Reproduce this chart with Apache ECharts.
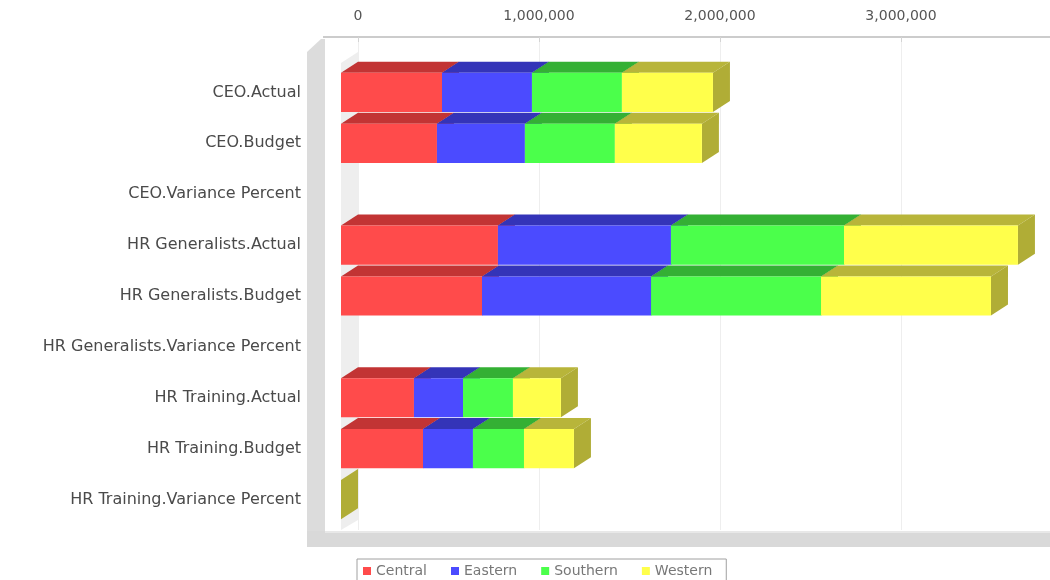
<!DOCTYPE html>
<html lang="en">
<head>
    <meta charset="UTF-8">
    <title>Regions by department</title>
    <script src="https://cdn.jsdelivr.net/npm/echarts@6/dist/echarts.min.js"></script>
    <style>
        html, body { margin: 0; padding: 0; background: #fff; }
        #chart { width: 1050px; height: 580px; }
    </style>
</head>
<body>
    <div id="chart"></div>
    <script>
        // categories, top to bottom
        const categories = [
            'CEO.Actual', 'CEO.Budget', 'CEO.Variance Percent',
            'HR Generalists.Actual', 'HR Generalists.Budget', 'HR Generalists.Variance Percent',
            'HR Training.Actual', 'HR Training.Budget', 'HR Training.Variance Percent'
        ]
        const regions = ['Central', 'Eastern', 'Southern', 'Western']

        // values per region
        const central  = [558000, 530000, 0, 867000, 779000, 0, 403000, 453000, 0]
        const eastern  = [497000, 486000, 0, 956000, 934000, 0, 271000, 276000, 0]
        const southern = [497000, 497000, 0, 956000, 939000, 0, 276000, 282000, 0]
        const western  = [503000, 481000, 0, 961000, 939000, 0, 265000, 276000, 4.2]

        const xMax = 4000000
        const xStep = 1000000

        // front / top / side colours
        const colors = [
            { front: '#ff4b4b', top: '#c23434', side: '#b83030' },
            { front: '#4b4bff', top: '#3434b8', side: '#3030aa' },
            { front: '#4bff4b', top: '#34b034', side: '#30a030' },
            { front: '#ffff4b', top: '#b8b53a', side: '#b0ad36' }
        ]

        // 3d depth offset
        const DX = 17
        const DY = 11

        function makeItems(values, prev) {
            return values.map((v, i) => [i, prev[i], prev[i] + v])
        }

        const allValues = [central, eastern, southern, western]
        let base = categories.map(() => 0)
        const seriesData = []
        for (let s = 0; s < allValues.length; s++) {
            seriesData.push(makeItems(allValues[s], base))
            base = base.map((b, i) => b + allValues[s][i])
        }

        function render3d(c) {
            return function (params, api) {
                const cat = api.value(0)
                const start = api.value(1)
                const end = api.value(2)
                if (end - start <= 0) return
                const p0 = api.coord([start, cat])
                const p1 = api.coord([end, cat])
                const h = api.size([0, 1])[1] * 0.77
                const yt = p0[1] - h / 2
                const yb = p0[1] + h / 2
                const x0 = p0[0]
                const x1 = p1[0]
                return {
                    type: 'group',
                    children: [
                        {
                            type: 'polygon',
                            shape: { points: [[x0, yt], [x1, yt], [x1 + DX, yt - DY], [x0 + DX, yt - DY]] },
                            style: { fill: c.top }
                        },
                        {
                            type: 'polygon',
                            shape: { points: [[x1, yt], [x1 + DX, yt - DY], [x1 + DX, yb - DY], [x1, yb]] },
                            style: { fill: c.side }
                        },
                        {
                            type: 'rect',
                            shape: { x: x0, y: yt, width: x1 - x0, height: h },
                            style: { fill: c.front }
                        }
                    ]
                }
            }
        }

        const series = regions.map((name, s) => ({
            name: name,
            type: 'custom',
            xAxisIndex: 1,
            yAxisIndex: 1,
            itemStyle: { color: colors[s].front },
            encode: { x: [1, 2], y: 0 },
            renderItem: render3d(colors[s]),
            data: seriesData[s]
        }))

        const myChart = echarts.init(document.getElementById('chart'))
        const option = {
            animation: false,
            backgroundColor: '#fff',
            textStyle: { fontFamily: 'DejaVu Sans' },
            grid: [
                // back plane: top axis + grid lines
                { left: 358, top: 37, width: 724, bottom: 50, outerBoundsMode: 'none', containLabel: false },
                // front plane: bars + category labels
                { left: 341, top: 67, width: 724, bottom: 55, outerBoundsMode: 'none', containLabel: false }
            ],
            xAxis: [
                {
                    gridIndex: 0,
                    type: 'value',
                    position: 'top',
                    min: 0,
                    max: xMax,
                    interval: xStep,
                    axisLine: { show: true, lineStyle: { color: '#cccccc', width: 2 } },
                    axisTick: { show: true, inside: true, length: 5, lineStyle: { color: '#d4d4d4' } },
                    axisLabel: { margin: 14, fontSize: 14, color: '#555', showMaxLabel: false },
                    splitLine: { show: true, lineStyle: { color: '#eeeeee' } }
                },
                {
                    gridIndex: 1,
                    type: 'value',
                    min: 0,
                    max: xMax,
                    show: false
                }
            ],
            yAxis: [
                {
                    gridIndex: 0,
                    type: 'category',
                    data: categories,
                    show: false
                },
                {
                    gridIndex: 1,
                    type: 'category',
                    inverse: true,
                    data: categories,
                    axisLine: { show: false },
                    axisTick: { show: false },
                    splitLine: { show: false },
                    axisLabel: { margin: 40, fontSize: 16, color: '#4a4a4a' }
                }
            ],
            legend: {
                left: 357,
                top: 559,
                width: 400,
                data: regions,
                icon: 'rect',
                itemWidth: 8,
                itemHeight: 8,
                itemGap: 24,
                padding: [5, 14, 6, 6],
                borderColor: '#a0a0a0',
                borderWidth: 1,
                textStyle: { fontSize: 14, color: '#777' }
            },
            graphic: [
                // outer frame edge (left)
                {
                    type: 'polygon', z: 0,
                    shape: { points: [[307, 52], [321, 39], [325, 39], [325, 547], [307, 547]] },
                    style: { fill: '#dcdcdc' }
                },
                // floor
                {
                    type: 'rect', z: 0,
                    shape: { x: 307, y: 531, width: 760, height: 16 },
                    style: { fill: '#d9d9d9' }
                },
                {
                    type: 'line', z: 0,
                    shape: { x1: 325, y1: 532, x2: 1050, y2: 532 },
                    style: { stroke: '#e8e8e8', lineWidth: 2 }
                },
                // left wall between front and back plane
                {
                    type: 'polygon', z: 0,
                    shape: { points: [[341, 63], [358, 52], [358, 520], [341, 530]] },
                    style: { fill: '#eeeeee' }
                },
                // top edge continues to the frame
                {
                    type: 'line', z: 0,
                    shape: { x1: 323, y1: 37, x2: 358, y2: 37 },
                    style: { stroke: '#cccccc', lineWidth: 2 }
                }
            ],
            series: series
        }
        myChart.setOption(option)
    </script>
</body>
</html>
